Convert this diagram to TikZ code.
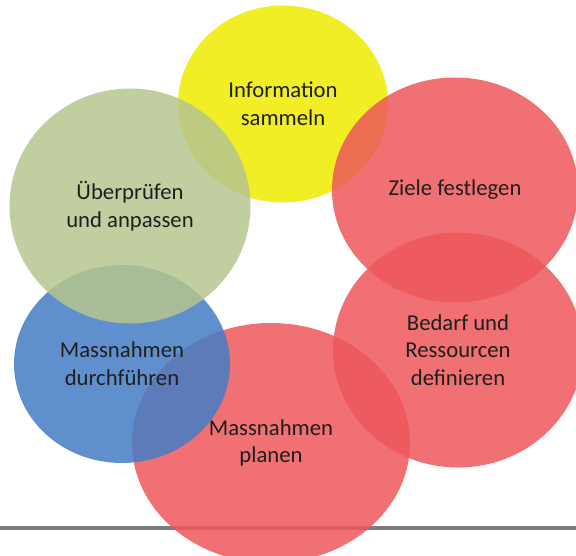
\documentclass[tikz,border=0pt]{standalone}
\usepackage{fontspec}
\setmainfont{Carlito}
\usetikzlibrary{shapes.geometric}
\definecolor{infofill}{RGB}{238,235,0}
\definecolor{zielfill}{RGB}{237,87,90}
\definecolor{planfill}{RGB}{67,125,196}
\definecolor{pruefill}{RGB}{181,197,143}
\definecolor{rulegray}{RGB}{125,125,125}
\tikzset{
  phase/.style={ellipse,inner sep=0pt,align=center,fill opacity=0.85,
    text opacity=1,text=black!88,font=\fontsize{22.7}{27.7}\selectfont},
}

\begin{document}
\begin{tikzpicture}[x=1pt,y=-1pt]
\useasboundingbox (0,0) rectangle (576,555);
\coordinate (rule west) at (0,528);
\coordinate (rule east) at (576,528);
\draw[rulegray,line width=4pt] (rule west) -- (rule east);
\foreach \name/\col/\x/\y/\w/\h/\txt in {
  info/infofill/283/104/210/197/{Information\\sammeln},
  ziele/zielfill/455/190/246/225/{Ziele festlegen},
  bedarf/zielfill/458/350/250/235/{Bedarf und\\Ressourcen\\definieren},
  planen/zielfill/271/443/278/240/{Massnahmen\\planen},
  durchf/planfill/122/364/216/198/{Massnahmen\\durchf\"uhren},
  pruefen/pruefill/130/206/241/235/{\"Uberpr\"ufen\\und anpassen}}
{
  \node[phase,fill=\col,minimum width=\w pt,minimum height=\h pt] (\name) at (\x,\y) {\txt};
}
\end{tikzpicture}
\end{document}
